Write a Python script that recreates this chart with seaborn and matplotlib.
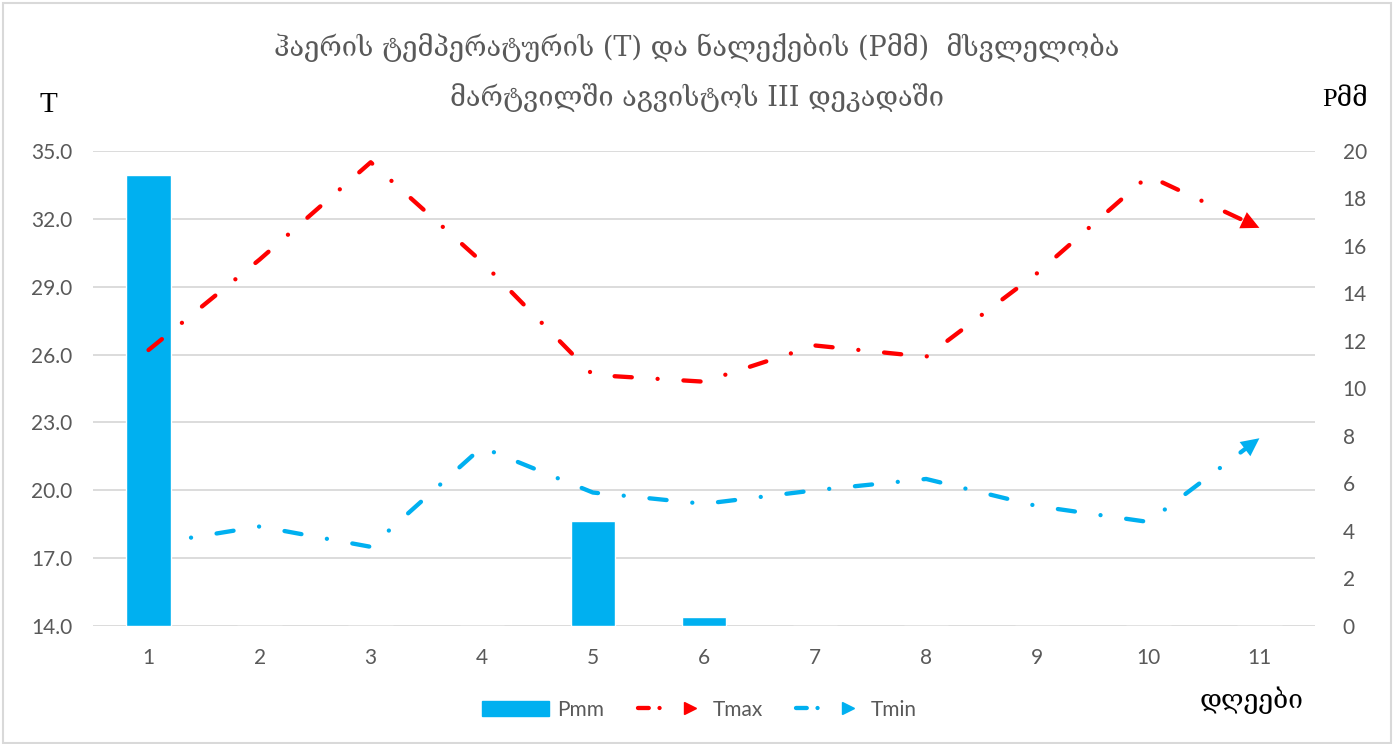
import numpy as np
import pandas as pd
import matplotlib
matplotlib.use('Agg')
import matplotlib.pyplot as plt
import seaborn as sns
from matplotlib.lines import Line2D
from matplotlib.patches import Patch, Rectangle
from matplotlib.legend_handler import HandlerTuple

# data
days = [1, 2, 3, 4, 5, 6, 7, 8, 9, 10, 11]
pmm = [19.0, 0, 0, 0, 4.4, 0.4, 0, 0, 0, 0, 0]
tmax = [26.2, 30.2, 34.5, 30.1, 25.1, 24.8, 26.4, 25.9, 29.6, 33.9, 31.6]
tmin = [17.6, 18.4, 17.5, 21.9, 19.9, 19.4, 20.0, 20.5, 19.3, 18.6, 22.3]
t_ticks = [14, 17, 20, 23, 26, 29, 32, 35]
p_ticks = [0, 2, 4, 6, 8, 10, 12, 14, 16, 18, 20]

title1 = 'ჰაერის ტემპერატურის (T) და ნალექების (Pმმ)  მსვლელობა'
title2 = 'მარტვილში აგვისტოს III დეკადაში'

CYAN = '#00B0F0'
RED = '#FF0000'
GRAY = '#595959'
GRID = '#D9D9D9'
DASH = (0, (4, 6, 0.01, 6))
LW = 3.1

sns.set_style('white')
plt.rcParams['font.family'] = ['Lato', 'DejaVu Sans']
serif = ['DejaVu Serif', 'DejaVu Sans']

df = pd.DataFrame({'pos': np.arange(len(days)), 'Pmm': pmm,
                   'Tmax': tmax, 'Tmin': tmin})

fig = plt.figure(figsize=(13.94, 7.44), dpi=100)
ax = fig.add_axes([0.0667, 0.1586, 0.8766, 0.6385])
ax_bar = ax.twinx()
ax_line = ax.twinx()

# bars on right scale
sns.barplot(data=df, x='pos', y='Pmm', native_scale=True, color=CYAN,
            saturation=1, width=0.4, errorbar=None, ax=ax_bar)

# temperature lines on left scale
for col, c in [('Tmax', RED), ('Tmin', CYAN)]:
    sns.lineplot(data=df, x='pos', y=col, color=c, linewidth=LW, linestyle=DASH,
                 dash_capstyle='round', ax=ax_line)
    ax_line.annotate('', xy=(df['pos'].iloc[-1], df[col].iloc[-1]),
                     xytext=(df['pos'].iloc[-2], df[col].iloc[-2]),
                     arrowprops=dict(arrowstyle='-|>,head_length=0.65,head_width=0.32',
                                     color=c, lw=0, mutation_scale=20,
                                     shrinkA=0, shrinkB=0))

ax.set_ylim(14, 35)
ax.set_yticks(t_ticks)
ax.set_yticklabels([f'{t:.1f}' for t in t_ticks])
ax.grid(axis='y', color=GRID, lw=1.3)
ax_line.set_ylim(14, 35)
ax_line.set_yticks([])
ax_bar.set_ylim(0, 20)
ax_bar.set_yticks(p_ticks)

ax.set_xlim(-0.5, 10.5)
ax.set_xticks(df['pos'])
ax.set_xticklabels([str(d) for d in days])

for a in (ax, ax_bar, ax_line):
    a.set_xlabel('')
    a.set_ylabel('')
    for s in a.spines.values():
        s.set_visible(False)
ax.tick_params(axis='y', length=0, labelsize=15, labelcolor=GRAY, pad=15)
ax.tick_params(axis='x', length=0, labelsize=15, labelcolor=GRAY, pad=16)
ax_bar.tick_params(axis='y', length=0, labelsize=15, labelcolor=GRAY, pad=20)

# titles and axis captions
fig.text(0.5, 1 - 48 / 744, title1, ha='center', va='center', fontsize=19.5,
         color=GRAY, family=serif)
fig.text(0.5, 1 - 98 / 744, title2, ha='center', va='center', fontsize=19.5,
         color=GRAY, family=serif)
fig.text(48 / 1394, 1 - 105 / 744, 'T', ha='center', va='center',
         fontsize=21, color='black', family=['Liberation Serif', 'DejaVu Serif'])
fig.text(1345 / 1394, 1 - 100 / 744, 'Pმმ', ha='center', va='center',
         fontsize=19, color='black', family=['Liberation Serif', 'DejaVu Serif'])
fig.text(1252 / 1394, 1 - 700 / 744, 'დღეები', ha='center', va='center',
         fontsize=19, color='black', family=serif)

# legend
def line_handle(c):
    return (Line2D([], [], color=c, lw=LW, linestyle=(0, (2.5, 2.5, 0.01, 2.5)),
                   dash_capstyle='round'),
            Line2D([], [], color=c, marker='>', ls='none', markersize=9))

handles = [Patch(color=CYAN), line_handle(RED), line_handle(CYAN)]
fig.legend(handles, ['Pmm', 'Tmax', 'Tmin'],
           handler_map={tuple: HandlerTuple(ndivide=None)},
           loc='center', bbox_to_anchor=(0.502, 0.046), ncol=3, frameon=False,
           fontsize=15, labelcolor=GRAY, handlelength=3.2, columnspacing=1.6,
           handletextpad=0.4)

fig.patches.append(Rectangle((0.002, 0.002), 0.996, 0.994, transform=fig.transFigure,
                             fill=False, edgecolor=GRID, lw=1.5))

fig.savefig('out.png', dpi=100)
